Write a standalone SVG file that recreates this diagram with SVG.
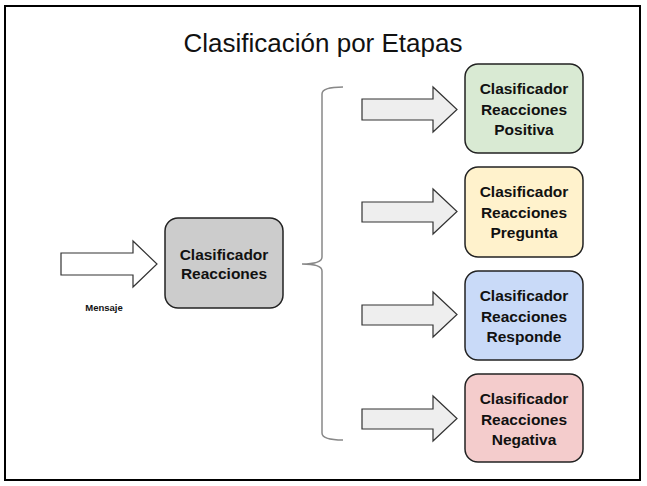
<svg xmlns="http://www.w3.org/2000/svg" width="647" height="486" viewBox="0 0 647 486">
<style>
.box{stroke:#222;stroke-width:1.5}
.lbl{font-family:"Liberation Sans",Arial,sans-serif;font-weight:bold;font-size:15.5px;fill:#111;text-anchor:middle}
.arr{fill:#eeeeee;stroke:#333;stroke-width:1.2;stroke-linejoin:miter}
</style>
<rect x="0" y="0" width="647" height="486" fill="#fff"/>
<rect x="5" y="6" width="635" height="474" fill="#fff" stroke="#000" stroke-width="2"/>
<text x="323" y="52" font-family="'Liberation Sans',Arial,sans-serif" font-size="26" fill="#111" text-anchor="middle">Clasificación por Etapas</text>
<g id="connectors">
<path class="arr" style="fill:#fff" d="M61,253 H133 V241 L157,264 L133,287 V275 H61 Z"/>
<text x="104" y="311" font-family="'Liberation Sans',Arial,sans-serif" font-weight="bold" font-size="9.5" fill="#111" text-anchor="middle">Mensaje</text>
<path d="M343,87 Q322,87 322,94 V257 Q322,264 302,264 Q322,264 322,271 V433 Q322,440 343,440" fill="none" stroke="#888" stroke-width="1.5"/>
<path class="arr" d="M362,99 H433 V87 L457,109.5 L433,132 V120 H362 Z"/>
<path class="arr" d="M362,202 H433 V189 L457,211.5 L433,234 V222 H362 Z"/>
<path class="arr" d="M362,305 H433 V292 L457,314.5 L433,337 V325 H362 Z"/>
<path class="arr" d="M362,409 H433 V396 L457,418.5 L433,441 V429 H362 Z"/>
</g>
<g id="main">
<rect class="box" x="165" y="218" width="118" height="90" rx="13" fill="#cccccc"/>
<text class="lbl" x="224" y="260">Clasificador</text>
<text class="lbl" x="224" y="279">Reacciones</text>
</g>
<g id="positiva">
<rect class="box" x="465" y="64" width="118" height="89" rx="13" fill="#d9ead3"/>
<text class="lbl" x="524" y="94">Clasificador</text>
<text class="lbl" x="524" y="115">Reacciones</text>
<text class="lbl" x="524" y="135">Positiva</text>
</g>
<g id="pregunta">
<rect class="box" x="465" y="167" width="118" height="90" rx="13" fill="#fff2cc"/>
<text class="lbl" x="524" y="197">Clasificador</text>
<text class="lbl" x="524" y="218">Reacciones</text>
<text class="lbl" x="524" y="238">Pregunta</text>
</g>
<g id="responde">
<rect class="box" x="465" y="271" width="118" height="89" rx="13" fill="#c9daf8"/>
<text class="lbl" x="524" y="301">Clasificador</text>
<text class="lbl" x="524" y="322">Reacciones</text>
<text class="lbl" x="524" y="342">Responde</text>
</g>
<g id="negativa">
<rect class="box" x="465" y="374" width="118" height="88" rx="13" fill="#f4cccc"/>
<text class="lbl" x="524" y="404">Clasificador</text>
<text class="lbl" x="524" y="425">Reacciones</text>
<text class="lbl" x="524" y="445">Negativa</text>
</g>
</svg>
